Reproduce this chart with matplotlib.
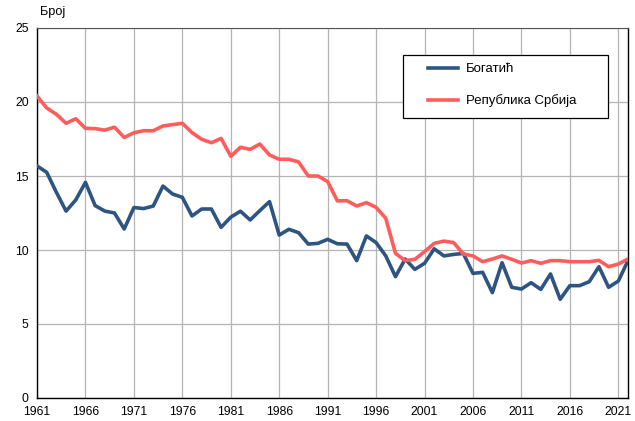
import matplotlib
matplotlib.use("Agg")
import matplotlib.pyplot as plt
from matplotlib.patches import Rectangle

years = list(range(1961, 2023))
bogatic = [15.68, 15.25, 13.9, 12.63, 13.38, 14.57, 13.0, 12.63, 12.5, 11.42,
           12.87, 12.8, 12.97, 14.32, 13.78, 13.56, 12.3, 12.77, 12.77, 11.53,
           12.22, 12.62, 12.03, 12.66, 13.27, 11.01, 11.4, 11.17, 10.4, 10.45,
           10.72, 10.42, 10.4, 9.28, 10.95, 10.5, 9.6, 8.2, 9.39, 8.69,
           9.1, 10.08, 9.6, 9.7, 9.77, 8.42, 8.49, 7.12, 9.14, 7.48,
           7.36, 7.79, 7.34, 8.38, 6.67, 7.59, 7.59, 7.86, 8.87, 7.48,
           7.9, 9.28]
srbija = [20.4, 19.6, 19.17, 18.56, 18.87, 18.22, 18.2, 18.1, 18.3, 17.6,
          17.92, 18.06, 18.06, 18.38, 18.47, 18.56, 17.93, 17.48, 17.25, 17.54,
          16.33, 16.94, 16.8, 17.16, 16.42, 16.13, 16.13, 15.95, 15.0, 15.0,
          14.62, 13.32, 13.33, 12.97, 13.2, 12.88, 12.14, 9.77, 9.28, 9.37,
          9.89, 10.45, 10.6, 10.5, 9.73, 9.6, 9.21, 9.39, 9.6, 9.37,
          9.12, 9.28, 9.1, 9.28, 9.28, 9.21, 9.21, 9.21, 9.3, 8.87,
          9.05, 9.39]
xticks = list(range(1961, 2022, 5))
yticks = [0, 5, 10, 15, 20, 25]
series_names = ["Богатић", "Република Србија"]

plt.rcParams['font.family'] = ['Liberation Sans', 'DejaVu Sans']

W, H = 635, 421
fig = plt.figure(figsize=(W/100, H/100), dpi=100)
ax = fig.add_axes([37/W, 1-398/H, (628-37)/W, (398-28)/H])

ax.plot(years, bogatic, color='#2e5482', lw=2.6, label=series_names[0], solid_joinstyle='round', zorder=3)
ax.plot(years, srbija, color='#ff5c5c', lw=2.6, label=series_names[1], solid_joinstyle='round', zorder=3)

ax.set_xlim(1961, 2022)
ax.set_ylim(0, 25)
ax.set_xticks(xticks)
ax.set_yticks(yticks)
ax.tick_params(length=0, labelsize=8.8, pad=6)
ax.grid(True, color='#b4b4b4', lw=0.9)
ax.set_axisbelow(True)
for s in ['left', 'bottom', 'right']:
    ax.spines[s].set_color('black')
    ax.spines[s].set_linewidth(1.0)
ax.spines['top'].set_color('#555555')

fig.text(40/W, 1-12/H, "Број", fontsize=9.2, va='center', ha='left')

# legend frame
ax.add_patch(Rectangle((403/W, 1-118/H), (608-403)/W, (118-55)/H,
                       transform=fig.transFigure, facecolor='white',
                       edgecolor='black', lw=0.9, zorder=5, clip_on=False))
leg = ax.legend(loc='upper left', bbox_to_anchor=(428/W, 1-63/H),
                bbox_transform=fig.transFigure,
                fontsize=9.5, frameon=False,
                handlelength=2.3, borderpad=0, labelspacing=1.45, handletextpad=0.55,
                borderaxespad=0)
leg.set_zorder(6)

fig.savefig("out.png", dpi=100)
